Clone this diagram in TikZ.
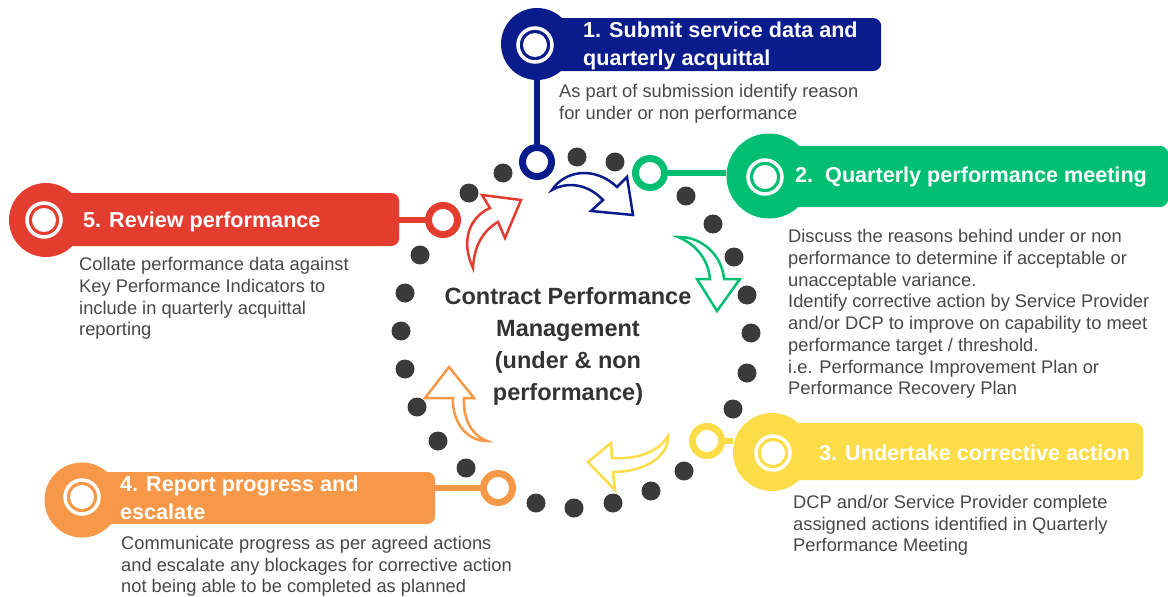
\documentclass[tikz,border=0pt]{standalone}
\usepackage{fontspec}
\setmainfont{Liberation Sans}
\definecolor{cblue}{RGB}{10,27,140}
\definecolor{cgreen}{RGB}{0,190,114}
\definecolor{cyellow}{RGB}{252,221,72}
\definecolor{corange}{RGB}{247,152,72}
\definecolor{cred}{RGB}{228,60,47}
\definecolor{cdot}{RGB}{58,58,58}
\definecolor{cbody}{RGB}{72,72,72}
\definecolor{ccenter}{RGB}{51,51,51}
\begin{document}
\begin{tikzpicture}[x=1pt,y=-1pt,
  dotnode/.style={circle,fill=cdot,minimum size=19pt,inner sep=0pt},
  ringnode/.style={circle,draw=#1,fill=white,line width=7pt,minimum size=29pt,inner sep=0pt},
  bigc/.style={circle,fill=#1,inner sep=0pt},
  banner/.style={fill=#1,rounded corners=8pt,inner sep=0pt,anchor=west},
  iconin/.style={circle,fill=white,minimum size=24pt,inner sep=0pt},
  iconout/.style={circle,draw=white,line width=3.5pt,minimum size=34pt,inner sep=0pt},
  conn/.style={#1,line width=5.5pt},
  arr/.style={draw=#1,fill=white,line width=2.5pt,line join=miter},
  title/.style={text=white,font=\fontsize{21.6}{27.5}\selectfont\bfseries,inner sep=0pt,align=left},
  body/.style={text=cbody,font=\fontsize{18.3}{21.7}\selectfont,inner sep=0pt,align=left,anchor=north west},
  centertext/.style={text=ccenter,font=\fontsize{23.5}{32}\selectfont\bfseries,inner sep=0pt,align=center,anchor=north}]
\useasboundingbox[fill=white] (0,0) rectangle (1168,597);

% curved hollow arrows
\draw[arr=cblue] (552,190) .. controls (565,170) and (595,166) .. (617,187) -- (627,177) -- (633,215) -- (591,211) -- (603,200) .. controls (590,186) and (570,180) .. cycle;
\draw[arr=cgreen] (678,237) .. controls (700,236) and (722,254) .. (724,279) -- (740,279) -- (717,311) -- (697,279) -- (710,279) .. controls (708,258) and (695,244) .. cycle;
\draw[arr=cyellow] (668,436) .. controls (669,458) and (642,472) .. (613,472) -- (615,490) -- (588,462) -- (611,443) -- (612,458) .. controls (640,460) and (660,450) .. cycle;
\draw[arr=corange] (487,441) .. controls (465,441) and (452,420) .. (453,398) -- (425,398) -- (449,367) -- (474,398) -- (464,398) .. controls (463,420) and (472,435) .. cycle;
\draw[arr=cred] (473,268) .. controls (460,240) and (470,217) .. (490,208) -- (482,195) -- (521,200) -- (505,238) -- (498,222) .. controls (484,230) and (474,245) .. cycle;

% dotted circle
\foreach \p [count=\i] in {(751,333),(747,295),(734,257),(713,224),(686,196),(615,162),(577,157),(503,173),(469,193),(420,255),(405,293),(401,331),(405,369),(417,407),(438,441),(466,468),(536,503),(574,508),(613,503),(651,491),(684,471),(733,409),(747,373)}
  \node[dotnode] (d\i) at \p {};

% rings on the circle
\node[ringnode=cblue] (r1) at (537,162) {};
\node[ringnode=cgreen] (r2) at (650,173) {};
\node[ringnode=cyellow] (r3) at (707,441) {};
\node[ringnode=corange] (r4) at (498,488) {};
\node[ringnode=cred] (r5) at (443,220) {};

% banners
\node[banner=cblue,minimum width=344pt,minimum height=53pt] (h1) at (537,44.5) {};
\node[bigc=cblue,minimum size=72pt] (b1) at (537,44) {};
\node[banner=cgreen,minimum width=399pt,minimum height=61pt] (h2) at (769,176.5) {};
\node[bigc=cgreen,minimum size=85pt] (b2) at (769,176) {};
\node[banner=cyellow,minimum width=371pt,minimum height=57pt] (h3) at (772,451.5) {};
\node[bigc=cyellow,minimum size=78pt] (b3) at (772,452) {};
\node[banner=corange,minimum width=353pt,minimum height=52pt] (h4) at (82,498) {};
\node[bigc=corange,minimum size=75pt] (b4) at (82,500) {};
\node[banner=cred,minimum width=353pt,minimum height=53pt] (h5) at (46,219.5) {};
\node[bigc=cred,minimum size=74pt] (b5) at (46,220) {};

% connectors
\draw[conn=cblue] (r1.north) -- (r1.north |- b1.south);
\draw[conn=cgreen] (r2.east) -- (r2.east -| b2.west);
\draw[conn=cyellow] (r3.east) -- (r3.east -| b3.west);
\draw[conn=corange] (r4.west) -- (r4.west -| h4.east);
\draw[conn=cred] (r5.west) -- (r5.west -| h5.east);

% icons
\foreach \n/\q in {1/{(535,45)},2/{(765,177)},3/{(773,453)},4/{(82,497)},5/{(44,220)}}{
  \node[iconin] (ia\n) at \q {};
  \node[iconout] (ib\n) at \q {};
}

% titles
\node[title,anchor=north west] (t1) at (583,18.5) {\strut 1. Submit service data and\\quarterly acquittal};
\node[title,anchor=base west] (t2) at (795,182) {2.~~Quarterly performance meeting};
\node[title,anchor=base west] (t3) at (819,460) {3. Undertake corrective action};
\node[title,anchor=north west] (t4) at (120,472.5) {\strut 4. Report progress and\\escalate};
\node[title,anchor=base west] (t5) at (83,227) {5. Review performance};

% body texts
\node[body] (x1) at (559,82.1) {\strut As part of submission identify reason\\for under or non performance};
\node[body] (x2) at (788,227.5) {\strut Discuss the reasons behind under or non\\performance to determine if acceptable or\\unacceptable variance.\\Identify corrective action by Service Provider\\and/or DCP to improve on capability to meet\\performance target / threshold.\\i.e. Performance Improvement Plan or\\Performance Recovery Plan};
\node[body] (x3) at (793,493.1) {\strut DCP and/or Service Provider complete\\assigned actions identified in Quarterly\\Performance Meeting};
\node[body] (x4) at (121,534.1) {\strut Communicate progress as per agreed actions\\and escalate any blockages for corrective action\\not being able to be completed as planned};
\node[body] (x5) at (79,255.5) {\strut Collate performance data against\\Key Performance Indicators to\\include in quarterly acquittal\\reporting};

% centre label
\node[centertext] (c) at (568,281.6) {\strut Contract Performance\\Management\\(under \& non\\performance)};
\end{tikzpicture}
\end{document}
